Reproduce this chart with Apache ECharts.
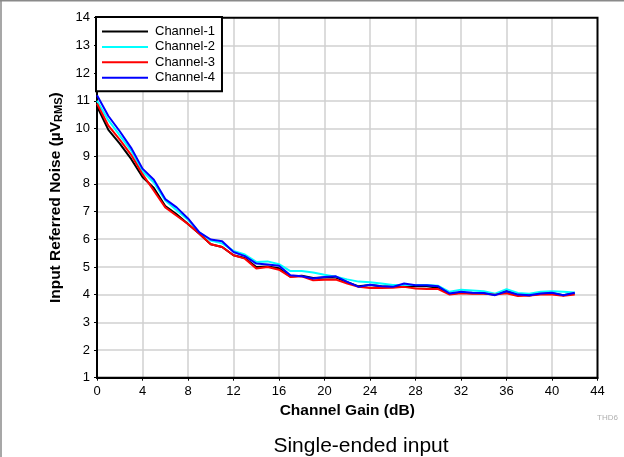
<!DOCTYPE html>
<html><head><meta charset="utf-8">
<script src="https://cdn.jsdelivr.net/npm/echarts@6/dist/echarts.min.js"></script>
<style>html,body{margin:0;padding:0;background:#fff}#c{width:624px;height:457px}</style>
</head><body><div id="c"></div>
<script>
const gains = [0,1,2,3,4,5,6,7,8,9,10,11,12,13,14,15,16,17,18,19,20,21,22,23,24,25,26,27,28,29,30,31,32,33,34,35,36,37,38,39,40,41,42];
const ch1 = [10.8,9.95,9.45,8.9,8.25,7.85,7.2,6.9,6.55,6.2,5.82,5.72,5.42,5.32,5.0,5.02,4.95,4.65,4.68,4.6,4.62,4.62,4.45,4.3,4.35,4.3,4.28,4.3,4.3,4.3,4.25,4.03,4.07,4.05,4.05,4.0,4.12,4.0,3.97,4.03,4.05,3.98,4.05];
const ch2 = [11.0,10.3,9.75,9.2,8.45,8.05,7.4,7.05,6.7,6.25,5.95,5.85,5.58,5.45,5.18,5.2,5.1,4.85,4.85,4.8,4.72,4.65,4.55,4.47,4.45,4.4,4.35,4.35,4.35,4.35,4.32,4.1,4.18,4.15,4.12,4.03,4.2,4.06,4.03,4.1,4.12,4.1,4.08];
const ch3 = [10.9,10.1,9.6,9.05,8.35,7.75,7.15,6.85,6.55,6.2,5.82,5.72,5.42,5.3,4.94,5.0,4.9,4.64,4.66,4.52,4.54,4.54,4.4,4.28,4.24,4.24,4.25,4.28,4.22,4.2,4.2,4.0,4.05,4.03,4.03,4.0,4.05,3.95,3.97,4.0,4.0,3.96,4.0];
const ch4 = [11.2,10.45,9.9,9.3,8.55,8.15,7.45,7.15,6.75,6.25,5.99,5.93,5.54,5.39,5.12,5.09,5.04,4.7,4.66,4.58,4.64,4.66,4.46,4.28,4.36,4.3,4.28,4.4,4.34,4.34,4.3,4.04,4.1,4.07,4.06,3.98,4.12,4.0,3.98,4.04,4.07,3.98,4.07];
const seriesNames = ['Channel-1','Channel-2','Channel-3','Channel-4'];
const seriesColors = ['#000000','#00FFFF','#FF0000','#0000FF'];
const seriesData = [ch1,ch2,ch3,ch4];

const chart = echarts.init(document.getElementById('c'));
const font = 'Liberation Sans, Arial, Helvetica, sans-serif';
chart.setOption({
  animation:false,
  textStyle:{fontFamily:font},
  title:[
    {text:'Single-ended input', left:356, top:431, textAlign:'center',
     textStyle:{fontSize:21, fontWeight:'normal', color:'#000', fontFamily:font}},
    {text:'THD6', left:592, top:409,
     textStyle:{fontSize:8, fontWeight:'normal', color:'#b0b0b0', fontFamily:font}}
  ],
  graphic:[
    {type:'line', shape:{x1:0,y1:0.75,x2:624,y2:0.75}, style:{stroke:'#8a8a8a', lineWidth:1.5}, silent:true},
    {type:'line', shape:{x1:1,y1:0,x2:1,y2:457}, style:{stroke:'#8a8a8a', lineWidth:1.5}, silent:true}
  ],
  legend:{
    orient:'vertical', left:96, top:17,
    data:seriesNames,
    icon:'rect', itemWidth:46, itemHeight:2, itemGap:0.4,
    padding:[7,7,6,6],
    backgroundColor:'#fff', borderColor:'#000', borderWidth:2,
    textStyle:{fontSize:13, color:'#000', lineHeight:15, padding:[0,0,0,2], fontFamily:font}
  },
  grid:{left:97, right:26.5, top:17.7, bottom:79.3, show:true, borderColor:'#000', borderWidth:2, containLabel:false, z:3},
  xAxis:{
    type:'value', min:0, max:44, interval:4,
    name:'Channel Gain (dB)', nameLocation:'middle', nameGap:24,
    nameTextStyle:{fontSize:15.5, fontWeight:'bold', color:'#000', fontFamily:font},
    axisLine:{show:true, lineStyle:{color:'#000', width:2}},
    axisTick:{show:true, length:3, lineStyle:{color:'#000'}},
    axisLabel:{fontSize:13, color:'#000', margin:7, fontFamily:font},
    splitLine:{show:true, showMinLine:false, showMaxLine:false, lineStyle:{color:'#d0d0d0', width:1.5}}
  },
  yAxis:{
    type:'value', min:1, max:14, interval:1,
    name:'Input Referred Noise (µV{sub|RMS})', nameLocation:'middle', nameGap:30,
    nameTextStyle:{fontSize:15.5, fontWeight:'bold', color:'#000', fontFamily:font,
      rich:{sub:{fontSize:11, fontWeight:'bold', verticalAlign:'bottom', padding:[6,0,0,0], color:'#000', fontFamily:font}}},
    axisLine:{show:true, lineStyle:{color:'#000', width:2}},
    axisTick:{show:true, length:3, lineStyle:{color:'#000'}},
    axisLabel:{fontSize:13, color:'#000', margin:7, fontFamily:font},
    splitLine:{show:true, showMinLine:false, showMaxLine:false, lineStyle:{color:'#d0d0d0', width:1.5}}
  },
  series: seriesNames.map((n,i)=>({
    name:n, type:'line', symbol:'none', z:2+i,
    data: gains.map((g,j)=>[g, seriesData[i][j]]),
    lineStyle:{color:seriesColors[i], width:2},
    itemStyle:{color:seriesColors[i]}
  }))
});
</script></body></html>
